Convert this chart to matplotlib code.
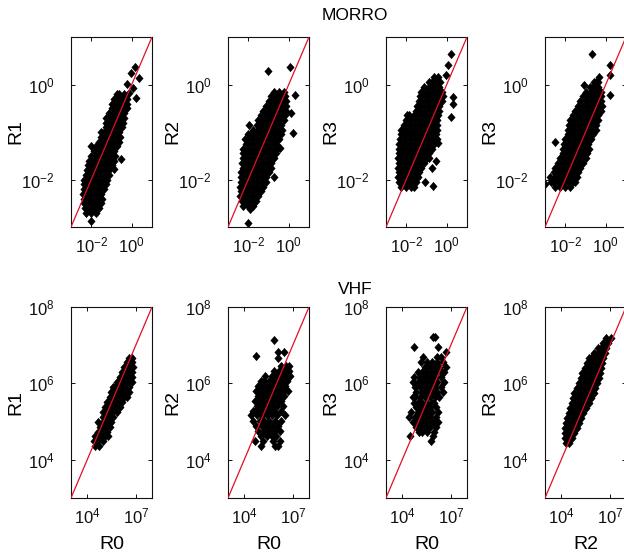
import matplotlib
matplotlib.use('Agg')
import matplotlib.pyplot as plt
from matplotlib.ticker import FixedLocator, NullLocator, LogFormatterSciNotation

plt.rcParams['font.family'] = ['Liberation Sans', 'DejaVu Sans']
plt.rcParams['mathtext.fontset'] = 'custom'
plt.rcParams['mathtext.rm'] = 'Liberation Sans'
plt.rcParams['mathtext.it'] = 'Liberation Sans:italic'
plt.rcParams['mathtext.bf'] = 'Liberation Sans:bold'

# ---------------- data (log10 values) ----------------
# each dict: log10(y) of a row of points -> log10(x) of the points in that row
# MORRO: R1 vs R0
morro_r1_r0 = {
    -2.7: [-2.25, -2.0, -1.75], -2.6: [-2.3, -2.125, -1.875, -1.625],
    -2.5: [-2.35, -2.25, -2.0, -1.75, -1.5], -2.4: [-2.375, -2.125, -1.875, -1.625, -1.48],
    -2.3: [-2.4, -2.25, -2.0, -1.75, -1.5], -2.2: [-2.375, -2.125, -1.875, -1.625, -1.375],
    -2.1: [-2.38, -2.25, -2.0, -1.75, -1.5, -1.25],
    -2.0: [-2.375, -2.125, -1.875, -1.625, -1.375, -1.2],
    -1.9: [-2.25, -2.0, -1.75, -1.5, -1.25, -1.12],
    -1.8: [-2.22, -2.125, -1.875, -1.625, -1.375, -1.125],
    -1.7: [-2.15, -2.0, -1.75, -1.5, -1.25, -1.0],
    -1.6: [-2.125, -1.875, -1.625, -1.375, -1.125, -0.875],
    -1.5: [-2.0, -1.75, -1.5, -1.25, -1.0, -0.85],
    -1.4: [-1.875, -1.625, -1.375, -1.125, -0.875],
    -1.3: [-2.0, -1.75, -1.5, -1.25, -1.0, -0.75],
    -1.2: [-1.625, -1.375, -1.125, -0.875, -0.625],
    -1.1: [-1.5, -1.25, -1.0, -0.75, -0.6],
    -1.0: [-1.5, -1.375, -1.125, -0.875, -0.625],
    -0.9: [-1.25, -1.0, -0.75, -0.5],
    -0.8: [-1.28, -1.125, -0.875, -0.625, -0.45],
    -0.7: [-1.25, -1.0, -0.75, -0.5, -0.38],
    -0.6: [-1.125, -0.875, -0.625, -0.375],
    -0.5: [-1.0, -0.75, -0.5, -0.25],
    -0.4: [-0.98, -0.875, -0.625, -0.375, -0.23],
    -0.3: [-0.9, -0.75, -0.5, -0.25],
    -0.2: [-0.75, -0.625, -0.375],
}
morro_r1_r0_out = [(-2.0, -2.88), (-1.77, -2.57), (-0.86, -1.78), (-0.53, -1.57),
                   (-0.12, -0.17), (0.21, -0.29), (-0.23, 0.02), (-0.04, 0.24),
                   (0.34, 0.13), (0.18, 0.37), (0.05, -0.08)]

# MORRO: R2 vs R0
morro_r2_r0 = {
    -2.55: [-2.25, -2.0, -1.75],
    -2.45: [-2.3, -2.125, -1.875, -1.625],
    -2.35: [-2.4, -2.25, -2.0, -1.75, -1.5],
    -2.25: [-2.375, -2.125, -1.875, -1.625, -1.375],
    -2.15: [-2.4, -2.25, -2.0, -1.75, -1.5, -1.25],
    -2.05: [-2.375, -2.125, -1.875, -1.625, -1.375, -1.125],
    -1.95: [-2.35, -2.25, -2.0, -1.75, -1.5, -1.25, -1.1],
    -1.85: [-2.375, -2.125, -1.875, -1.625, -1.375, -1.125, -1.0],
    -1.75: [-2.25, -2.0, -1.75, -1.5, -1.25, -1.0, -0.9],
    -1.65: [-2.3, -2.125, -1.875, -1.625, -1.375, -1.125, -0.875],
    -1.55: [-2.25, -2.0, -1.75, -1.5, -1.25, -1.0, -0.75],
    -1.45: [-2.25, -2.125, -1.875, -1.625, -1.375, -1.125, -0.875, -0.625],
    -1.35: [-2.25, -2.0, -1.75, -1.5, -1.25, -1.0, -0.75, -0.6],
    -1.25: [-2.125, -1.875, -1.625, -1.375, -1.125, -0.875, -0.625],
    -1.15: [-2.15, -2.0, -1.75, -1.5, -1.25, -1.0, -0.75, -0.5],
    -1.05: [-2.0, -1.875, -1.625, -1.375, -1.125, -0.875, -0.625, -0.375],
    -0.95: [-1.75, -1.5, -1.25, -1.0, -0.75, -0.5, -0.35],
    -0.85: [-1.95, -1.55, -1.375, -1.125, -0.875, -0.625, -0.375],
    -0.75: [-1.5, -1.25, -1.0, -0.75, -0.5, -0.25],
    -0.65: [-1.375, -1.125, -0.875, -0.625, -0.375, -0.2],
    -0.55: [-1.25, -1.0, -0.75, -0.5, -0.25, -0.15],
    -0.45: [-1.125, -0.875, -0.625, -0.375, -0.125],
    -0.35: [-1.0, -0.75, -0.5, -0.25, -0.15],
    -0.25: [-0.875, -0.625, -0.375, -0.2],
    -0.15: [-0.75, -0.5, -0.25],
}
morro_r2_r0_out = [(-1.02, 0.29), (0.05, 0.37), (0.29, -0.22), (0.13, -0.61),
                   (0.21, -1.03), (-0.45, -1.34), (-0.73, -1.95), (-2.01, -2.92),
                   (-1.93, -2.62)]

# MORRO: R3 vs R0
morro_r3_r0 = {
    -2.15: [-2.25, -2.0, -1.75, -1.6],
    -2.05: [-2.375, -2.125, -1.875, -1.625, -1.5],
    -1.95: [-2.4, -2.25, -2.0, -1.75, -1.5, -1.4],
    -1.85: [-2.375, -2.125, -1.875, -1.625, -1.375],
    -1.75: [-2.42, -2.25, -2.0, -1.75, -1.5, -1.25],
    -1.65: [-2.375, -2.125, -1.875, -1.625, -1.375, -1.125],
    -1.55: [-2.42, -2.25, -2.0, -1.75, -1.5, -1.25, -1.0, -0.9],
    -1.45: [-2.375, -2.125, -1.875, -1.625, -1.375, -1.125, -0.875],
    -1.35: [-2.38, -2.25, -2.0, -1.75, -1.5, -1.25, -1.0, -0.75],
    -1.25: [-2.375, -2.125, -1.875, -1.625, -1.375, -1.125, -0.875, -0.625],
    -1.15: [-2.33, -2.25, -2.0, -1.75, -1.5, -1.25, -1.0, -0.75, -0.5],
    -1.05: [-2.28, -2.125, -1.875, -1.625, -1.375, -1.125, -0.875, -0.625, -0.52],
    -0.95: [-2.25, -2.0, -1.75, -1.5, -1.25, -1.0, -0.75, -0.5],
    -0.85: [-2.125, -1.875, -1.625, -1.375, -1.125, -0.875, -0.625, -0.5],
    -0.75: [-2.0, -1.75, -1.5, -1.25, -1.0, -0.75, -0.5],
    -0.65: [-1.95, -1.875, -1.625, -1.375, -1.125, -0.875, -0.625, -0.45],
    -0.55: [-1.5, -1.25, -1.0, -0.75, -0.5, -0.4],
    -0.45: [-1.45, -1.375, -1.125, -0.875, -0.625, -0.375],
    -0.35: [-1.35, -1.25, -1.0, -0.75, -0.5, -0.25],
    -0.25: [-1.3, -1.125, -0.875, -0.625, -0.375, -0.2],
    -0.15: [-1.25, -1.0, -0.75, -0.5, -0.25],
    -0.05: [-1.125, -0.875, -0.625, -0.375],
    0.05: [-0.9, -0.75, -0.5, -0.35],
    0.15: [-0.625, -0.45],
}
morro_r3_r0_out = [(0.21, 0.65), (0.05, 0.41), (-0.04, 0.2), (0.29, -0.26),
                   (0.29, -0.40), (0.21, -0.68), (-0.45, -1.24), (-0.53, -1.62),
                   (-0.73, -1.76), (-1.06, -2.06), (-0.66, -2.13)]

# MORRO: R3 vs R2
morro_r3_r2 = {
    -2.15: [-2.5, -2.25, -2.0, -1.75],
    -2.05: [-2.7, -2.625, -2.375, -2.125, -1.875, -1.625, -1.5],
    -1.95: [-2.75, -2.5, -2.25, -2.0, -1.75, -1.5, -1.4],
    -1.85: [-2.55, -2.375, -2.125, -1.875, -1.625, -1.375],
    -1.75: [-2.5, -2.25, -2.0, -1.75, -1.5, -1.25],
    -1.65: [-2.375, -2.125, -1.875, -1.625, -1.375, -1.125],
    -1.55: [-2.25, -2.0, -1.75, -1.5, -1.25, -1.0],
    -1.45: [-2.125, -1.875, -1.625, -1.375, -1.125, -0.95],
    -1.35: [-2.1, -2.0, -1.75, -1.5, -1.25, -1.0, -0.85],
    -1.25: [-2.05, -1.875, -1.625, -1.375, -1.125, -0.875],
    -1.15: [-2.0, -1.75, -1.5, -1.25, -1.0, -0.75],
    -1.05: [-1.875, -1.625, -1.375, -1.125, -0.875, -0.625],
    -0.95: [-1.85, -1.75, -1.5, -1.25, -1.0, -0.75, -0.5],
    -0.85: [-1.8, -1.625, -1.375, -1.125, -0.875, -0.625, -0.5],
    -0.75: [-1.75, -1.5, -1.25, -1.0, -0.75, -0.5, -0.4],
    -0.65: [-1.625, -1.375, -1.125, -0.875, -0.625, -0.375],
    -0.55: [-1.5, -1.25, -1.0, -0.75, -0.5, -0.25],
    -0.45: [-1.375, -1.125, -0.875, -0.625, -0.375, -0.2],
    -0.35: [-1.25, -1.0, -0.75, -0.5, -0.25],
    -0.25: [-1.125, -0.875, -0.625, -0.375, -0.22],
    -0.15: [-1.0, -0.75, -0.5, -0.25],
    -0.05: [-0.8, -0.625, -0.375],
    0.05: [-0.6, -0.5, -0.4],
}
morro_r3_r2_out = [(-0.68, 0.65), (-1.09, 0.0), (-0.35, 0.16), (0.23, 0.41),
                   (0.23, 0.20), (0.23, -0.22), (-2.98, -2.09), (-2.49, -1.20)]

# VHF: R1 vs R0
vhf_r1_r0 = {
    4.35: [4.5, 4.75], 4.48: [4.45, 4.65, 4.95], 4.61: [4.5, 4.8, 5.1, 5.28],
    4.74: [4.65, 4.95, 5.25], 4.87: [4.8, 5.1, 5.4], 5.0: [4.65, 4.95, 5.25, 5.48],
    5.13: [4.95, 5.1, 5.4, 5.6], 5.26: [4.95, 5.25, 5.55, 5.85],
    5.39: [5.1, 5.4, 5.7, 6.0], 5.52: [5.25, 5.55, 5.85, 6.15],
    5.65: [5.4, 5.7, 6.0, 6.3, 6.45], 5.78: [5.45, 5.55, 5.85, 6.15, 6.45, 6.58],
    5.91: [5.6, 5.7, 6.0, 6.3, 6.6], 6.04: [5.85, 6.15, 6.45, 6.75],
    6.17: [6.0, 6.3, 6.6, 6.75], 6.30: [6.15, 6.45, 6.75],
    6.43: [6.3, 6.6, 6.8], 6.56: [6.45, 6.75], 6.66: [6.6, 6.75],
}

# VHF: R2 vs R0
vhf_r2_r0 = {
    7.14: [5.84], 6.81: [6.09, 6.46], 6.73: [4.75], 6.66: [6.09],
    6.46: [6.3, 6.6, 6.74],
    6.33: [5.85, 6.15, 6.45, 6.75],
    6.20: [5.26, 5.7, 6.0, 6.3, 6.6, 6.81],
    6.07: [5.05, 5.25, 5.55, 5.85, 6.15, 6.45, 6.66],
    5.94: [4.85, 5.1, 5.4, 5.7, 6.0, 6.3, 6.5],
    5.81: [4.75, 4.95, 5.25, 5.55, 5.85, 6.15, 6.45, 6.70],
    5.68: [4.85, 5.1, 5.4, 5.7, 6.0, 6.3, 6.46],
    5.55: [4.65, 4.95, 5.25, 5.55, 5.85, 6.15, 6.29],
    5.42: [4.8, 5.1, 5.4, 5.7, 6.0, 6.4],
    5.29: [4.54, 4.65, 4.95, 5.25, 5.55, 5.85, 6.25],
    5.16: [4.44, 4.8, 5.1, 5.4, 5.7, 6.0, 6.5],
    5.02: [4.54, 4.95, 5.25, 5.55, 5.88, 6.29],
    4.89: [4.75, 5.1, 5.4, 5.7, 6.09],
    4.76: [4.85, 5.25, 5.55, 5.88, 6.19],
    4.63: [5.06, 5.4, 5.7, 5.98],
    4.50: [4.65, 5.16, 5.78, 6.19],
    4.37: [5.06, 5.88, 6.09],
}

# VHF: R3 vs R0
vhf_r3_r0 = {
    7.21: [5.88, 6.04], 6.96: [4.75, 6.19], 6.81: [6.70], 6.68: [5.26, 6.15, 6.40],
    6.55: [5.16, 5.55, 5.85, 6.15, 6.5],
    6.42: [5.4, 5.7, 6.0, 6.3, 6.7],
    6.29: [4.95, 5.25, 5.55, 5.85, 6.15, 6.45, 6.6],
    6.16: [4.75, 5.1, 5.4, 5.7, 6.0, 6.4],
    6.03: [4.65, 4.95, 5.25, 5.55, 5.85, 6.15, 6.6],
    5.90: [4.8, 5.1, 5.4, 5.7, 6.0, 6.4],
    5.77: [4.85, 5.25, 5.55, 5.85, 6.15, 6.5],
    5.64: [4.65, 4.8, 5.1, 5.4, 5.7, 6.0, 6.29],
    5.50: [4.75, 4.95, 5.25, 5.55, 5.85, 5.98],
    5.37: [4.85, 5.1, 5.4, 5.7, 6.09],
    5.24: [4.54, 4.95, 5.25, 5.55, 5.85, 6.19],
    5.11: [4.44, 4.8, 5.1, 5.4, 5.7, 6.09],
    4.98: [4.65, 4.95, 5.25, 5.55, 5.88, 6.19],
    4.85: [4.85, 5.1, 5.4, 5.7, 6.09],
    4.72: [5.06, 5.25, 5.55, 5.98],
    4.61: [4.48, 5.88],
    4.48: [5.78],
}

# VHF: R3 vs R2
vhf_r3_r2 = {
    4.45: [4.3, 4.5], 4.58: [4.25, 4.45, 4.65], 4.71: [4.25, 4.5, 4.8],
    4.84: [4.25, 4.35, 4.65, 4.95], 4.97: [4.3, 4.5, 4.8, 5.1],
    5.10: [4.35, 4.65, 4.95, 5.25], 5.23: [4.5, 4.8, 5.1, 5.35],
    5.36: [4.55, 4.65, 4.95, 5.25, 5.5], 5.49: [4.65, 4.8, 5.1, 5.4, 5.7],
    5.62: [4.75, 4.95, 5.25, 5.55, 5.85], 5.75: [4.8, 5.1, 5.4, 5.7, 6.0],
    5.88: [4.95, 5.25, 5.55, 5.85, 6.1], 6.01: [5.1, 5.4, 5.7, 6.0, 6.2],
    6.14: [5.25, 5.55, 5.85, 6.15, 6.35], 6.27: [5.3, 5.4, 5.7, 6.0, 6.3, 6.42],
    6.40: [5.45, 5.55, 5.85, 6.15, 6.45], 6.53: [5.6, 5.7, 6.0, 6.3, 6.5],
    6.66: [5.7, 5.85, 6.15, 6.45, 6.6], 6.79: [6.0, 6.3, 6.6, 6.7],
    6.92: [6.3, 6.45, 6.75], 7.05: [6.6, 6.9], 7.18: [6.75, 7.05],
}

top_ylabels = ['R1', 'R2', 'R3', 'R3']
bottom_ylabels = ['R1', 'R2', 'R3', 'R3']
bottom_xlabels = ['R0', 'R0', 'R0', 'R2']
top_lim = (1e-3, 1e1)
bottom_lim = (1e3, 1e8)
top_ticks = [1e-2, 1e0]
bottom_xticks = [1e4, 1e7]
bottom_yticks = [1e4, 1e6, 1e8]


def to_points(rows, extra=()):
    xs, ys = [], []
    for ly, lxs in rows.items():
        for lx in lxs:
            xs.append(10 ** lx)
            ys.append(10 ** ly)
    for lx, ly in extra:
        xs.append(10 ** lx)
        ys.append(10 ** ly)
    return xs, ys


top_data = [to_points(morro_r1_r0, morro_r1_r0_out),
            to_points(morro_r2_r0, morro_r2_r0_out),
            to_points(morro_r3_r0, morro_r3_r0_out),
            to_points(morro_r3_r2, morro_r3_r2_out)]
bottom_data = [to_points(vhf_r1_r0), to_points(vhf_r2_r0),
               to_points(vhf_r3_r0), to_points(vhf_r3_r2)]

W, H = 624, 555
fig = plt.figure(figsize=(W / 100, H / 100), dpi=100)
fig.patch.set_facecolor('white')

col_left = [71, 228, 386, 545]
ax_w = 81
rows_px = [(37, 227), (307, 498)]

diamond = [(0, 1), (0.88, 0), (0, -1), (-0.88, 0), (0, 1)]
TICK_FS = 12
LABEL_FS = 14


def style(ax, lim, xt, yt):
    ax.set_xscale('log')
    ax.set_yscale('log')
    ax.set_xlim(*lim)
    ax.set_ylim(*lim)
    ax.xaxis.set_major_locator(FixedLocator(xt))
    ax.yaxis.set_major_locator(FixedLocator(yt))
    ax.xaxis.set_minor_locator(NullLocator())
    ax.yaxis.set_minor_locator(NullLocator())
    ax.xaxis.set_major_formatter(LogFormatterSciNotation())
    ax.yaxis.set_major_formatter(LogFormatterSciNotation())
    ax.tick_params(axis='both', which='major', direction='in', length=3,
                   width=0.7, top=True, right=True, labelsize=TICK_FS, colors='#111111')
    ax.tick_params(axis='y', pad=12)
    ax.tick_params(axis='x', pad=6)
    for s in ax.spines.values():
        s.set_linewidth(0.8)
        s.set_color('#111111')


for r, (datas, lim) in enumerate([(top_data, top_lim), (bottom_data, bottom_lim)]):
    t, b = rows_px[r]
    for c in range(4):
        ax = fig.add_axes([col_left[c] / W, 1 - b / H, ax_w / W, (b - t) / H])
        xs, ys = datas[c]
        ax.plot(xs, ys, linestyle='none', marker=diamond, ms=6.6, mew=0,
                color='black', zorder=2, clip_on=True)
        ax.plot(lim, lim, color='#e0102a', lw=0.9, zorder=3)
        if r == 0:
            style(ax, lim, top_ticks, top_ticks)
            ax.set_ylabel(top_ylabels[c], fontsize=LABEL_FS)
        else:
            style(ax, lim, bottom_xticks, bottom_yticks)
            ax.set_ylabel(bottom_ylabels[c], fontsize=LABEL_FS)
            ax.set_xlabel(bottom_xlabels[c], fontsize=LABEL_FS)
            ax.xaxis.set_label_coords(0.5, -0.2)
        ax.yaxis.set_label_coords(-0.57, 0.5)

fig.text(355 / W, 1 - 15 / H, 'MORRO', ha='center', va='center', fontsize=12.5)
fig.text(355 / W, 1 - 289 / H, 'VHF', ha='center', va='center', fontsize=12.5)

fig.savefig('out.png', dpi=100, facecolor='white')
